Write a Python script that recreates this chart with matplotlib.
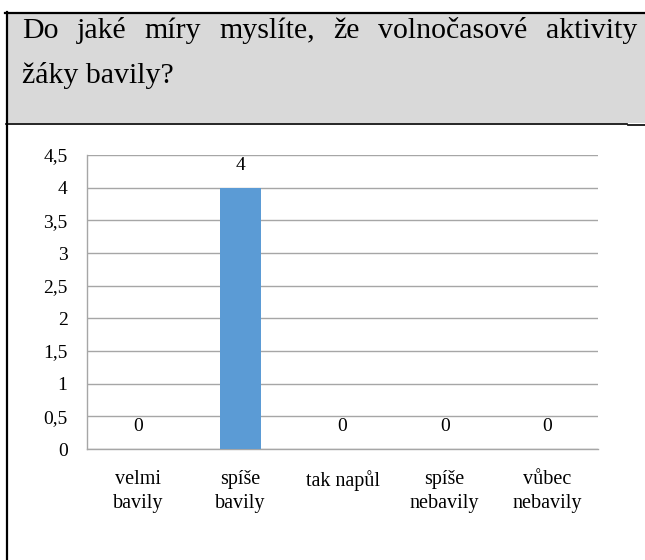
import matplotlib
matplotlib.use("Agg")
import matplotlib.pyplot as plt
from matplotlib.ticker import FuncFormatter, MultipleLocator
from matplotlib.patches import Rectangle
from matplotlib.lines import Line2D

# Survey answers and counts
categories = ["velmi\nbavily", "spíše\nbavily", "tak napůl", "spíše\nnebavily", "vůbec\nnebavily"]
counts = [0, 4, 0, 0, 0]
title_line1 = "Do jaké míry myslíte, že volnočasové aktivity"
title_line2 = "žáky bavily?"

W, H, DPI = 645, 560, 100
SERIF = ["Liberation Serif", "DejaVu Serif"]
BAR_COLOR = "#5b9bd5"
GRID_COLOR = "#a6a6a6"

fig = plt.figure(figsize=(W / DPI, H / DPI), dpi=DPI)
fig.patch.set_facecolor("white")


def fx(px):
    return px / W


def fy(py):
    return 1 - py / H


# Grey header box with black frame lines
fig.add_artist(Rectangle((fx(7), fy(123)), fx(W - 7), fy(13) - fy(123),
                         transform=fig.transFigure, facecolor="#d9d9d9",
                         edgecolor="none", zorder=0))
fig.add_artist(Line2D([fx(5), fx(W)], [fy(12.5), fy(12.5)],
                      transform=fig.transFigure, color="black", lw=1.6))
fig.add_artist(Line2D([fx(6), fx(627)], [fy(123.5), fy(123.5)],
                      transform=fig.transFigure, color="black", lw=1.2))
fig.add_artist(Line2D([fx(628), fx(W)], [fy(125), fy(125)],
                      transform=fig.transFigure, color="black", lw=1.2))
fig.add_artist(Line2D([fx(6.5), fx(6.5)], [fy(12), fy(H)],
                      transform=fig.transFigure, color="black", lw=1.6))

# Justified first title line, left-aligned second line
title_size = 21.5
renderer = fig.canvas.get_renderer()
words = title_line1.split(" ")
x_left, x_right = 22, 637
word_texts = [fig.text(0, fy(38), w, fontsize=title_size, family=SERIF,
                       va="baseline", ha="left") for w in words]
widths = [t.get_window_extent(renderer).width for t in word_texts]
gap = (x_right - x_left - sum(widths)) / (len(words) - 1)
x = x_left
for t, w in zip(word_texts, widths):
    t.set_x(fx(x))
    x += w + gap
fig.text(fx(x_left), fy(83), title_line2, fontsize=title_size, family=SERIF,
         va="baseline", ha="left")

# Bar chart
ax = fig.add_axes([fx(87), fy(449), fx(598) - fx(87), fy(155) - fy(449)])
xpos = list(range(len(categories)))
bars = ax.bar(xpos, counts, width=0.4, color=BAR_COLOR, zorder=3)
ax.set_xlim(-0.5, len(categories) - 0.5)
ax.set_ylim(0, 4.5)
ax.yaxis.set_major_locator(MultipleLocator(0.5))
ax.yaxis.set_major_formatter(FuncFormatter(lambda v, p: f"{v:g}".replace(".", ",")))
ax.grid(axis="y", color=GRID_COLOR, lw=1.0, zorder=0)
ax.set_axisbelow(True)
for side in ("top", "right"):
    ax.spines[side].set_visible(False)
for side in ("left", "bottom"):
    ax.spines[side].set_color(GRID_COLOR)
    ax.spines[side].set_linewidth(1.0)
ax.set_xticks(xpos)
ax.set_xticklabels(categories, family=SERIF, fontsize=14.5, linespacing=1.4)
for lbl in ax.get_yticklabels():
    lbl.set_family(SERIF)
    lbl.set_fontsize(14)
ax.tick_params(axis="both", length=0)
ax.tick_params(axis="y", pad=14)
ax.tick_params(axis="x", pad=15)

for xi, v in zip(xpos, counts):
    ax.annotate(str(v), (xi, v), xytext=(0, 16), textcoords="offset points",
                ha="center", va="center", family=SERIF, fontsize=14)

fig.savefig("out.png", dpi=DPI)
